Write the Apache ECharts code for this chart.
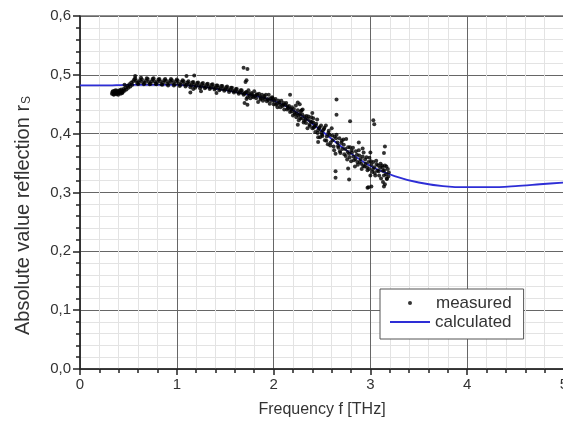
<!DOCTYPE html>
<html>
<head>
<meta charset="utf-8">
<script src="https://cdn.jsdelivr.net/npm/echarts@6/dist/echarts.min.js"></script>
<style>html,body{margin:0;padding:0;background:#fff}#c{width:563px;height:423px}</style>
</head>
<body>
<div id="c"></div>
<script>
// ---- data ----
const xTicks = [0, 1, 2, 3, 4, 5];
const yTickLabels = ['0,0', '0,1', '0,2', '0,3', '0,4', '0,5', '0,6'];
const calcX = [0, 0.25, 0.5, 0.75, 1.0, 1.25, 1.5, 1.75, 2.0, 2.25, 2.5, 2.75, 3.0, 3.25, 3.5, 3.75, 4.0, 4.25, 4.5, 4.75, 5.0];
const calcY = [0.482, 0.482, 0.483, 0.483, 0.483, 0.480, 0.474, 0.466, 0.456, 0.435, 0.404, 0.372, 0.345, 0.328, 0.317, 0.311, 0.309, 0.309, 0.311, 0.314, 0.317];
const measuredLow = [
[0.33,0.468],[0.34,0.472],[0.35,0.466],[0.36,0.470],[0.37,0.474],[0.38,0.467],[0.39,0.471],[0.40,0.469],[0.41,0.474],[0.42,0.468],[0.43,0.472],[0.44,0.470],[0.45,0.476],
[0.335,0.471],[0.345,0.467],[0.355,0.473],[0.365,0.468],[0.375,0.470],[0.385,0.473],[0.395,0.466],[0.405,0.472],[0.415,0.470],[0.425,0.475],[0.435,0.469],[0.445,0.473],
[0.46,0.473],[0.47,0.478],[0.48,0.475],[0.49,0.481],[0.50,0.478],[0.51,0.484],[0.52,0.480],[0.53,0.487],[0.54,0.483],[0.55,0.489],
[0.56,0.492],[0.57,0.494],[0.58,0.490],[0.59,0.486],[0.60,0.484],[0.61,0.487],[0.62,0.491],[0.63,0.495],[0.64,0.492],[0.65,0.487],[0.66,0.484],[0.67,0.486],[0.68,0.490],[0.69,0.494],[0.70,0.493],[0.71,0.488],[0.72,0.484],[0.73,0.485],[0.74,0.489],[0.75,0.493],[0.76,0.494],[0.77,0.489],[0.78,0.485],[0.79,0.484],[0.80,0.488],[0.81,0.492],[0.82,0.493],[0.83,0.489],[0.84,0.484],[0.85,0.483],[0.86,0.487],[0.87,0.491],[0.88,0.493],[0.89,0.490],[0.90,0.485],[0.91,0.482],[0.92,0.486],[0.93,0.490],[0.94,0.493],[0.95,0.491],[0.96,0.486],[0.97,0.482],[0.98,0.484],[0.99,0.489],[1.00,0.492],[1.01,0.490],[1.02,0.485],[1.03,0.481],[1.04,0.483],[1.05,0.488],[1.06,0.491],[1.07,0.489],[1.08,0.484],[1.09,0.480],[1.10,0.483],
[0.57,0.498],[0.46,0.483]
];
const measuredMid = [
[1.11,0.487],[1.12,0.489],[1.13,0.484],[1.14,0.479],[1.15,0.482],[1.16,0.487],[1.17,0.488],[1.18,0.483],[1.19,0.478],[1.20,0.481],[1.21,0.486],[1.22,0.487],[1.23,0.482],[1.24,0.477],[1.25,0.480],[1.26,0.485],[1.27,0.486],[1.28,0.481],[1.29,0.477],[1.30,0.479],[1.31,0.484],[1.32,0.485],[1.33,0.480],[1.34,0.476],[1.35,0.478],[1.36,0.483],[1.37,0.484],[1.38,0.479],[1.39,0.475],[1.40,0.477],[1.41,0.482],[1.42,0.482],[1.43,0.478],[1.44,0.474],[1.45,0.476],[1.46,0.481],[1.47,0.481],[1.48,0.476],[1.49,0.473],[1.50,0.475],[1.51,0.479],[1.52,0.480],[1.53,0.475],[1.54,0.471],[1.55,0.474],[1.56,0.478],[1.57,0.478],[1.58,0.473],[1.59,0.470],[1.60,0.472],[1.61,0.476],[1.62,0.476],[1.63,0.471],[1.64,0.468],[1.65,0.470],[1.66,0.474],[1.67,0.474],[1.68,0.469],[1.69,0.466],[1.70,0.468],
[1.10,0.498],[1.18,0.499],[1.14,0.470],[1.17,0.476],[1.41,0.469],[1.69,0.512],[1.73,0.510],[1.71,0.488],[1.72,0.491],[1.72,0.459],[1.70,0.452],[1.73,0.449],[1.25,0.472],
[1.71,0.470],[1.72,0.471],[1.73,0.462],[1.74,0.474],[1.75,0.465],[1.76,0.460],[1.77,0.469],[1.78,0.467],[1.79,0.462],[1.80,0.472],[1.81,0.464],[1.82,0.460],[1.83,0.466],[1.84,0.454],[1.85,0.468],[1.86,0.463],[1.87,0.460],[1.88,0.466],[1.89,0.456],[1.90,0.462],[1.91,0.459],[1.92,0.466],[1.93,0.455],[1.94,0.459],[1.95,0.466],[1.96,0.451],[1.97,0.460],[1.98,0.456],[1.99,0.460],[2.00,0.450],[2.01,0.456],[2.02,0.459],[2.03,0.451],[2.04,0.445],[2.05,0.456],[2.06,0.453],[2.07,0.445],[2.08,0.456],[2.09,0.447],[2.10,0.449],[2.11,0.441],[2.12,0.449],[2.13,0.452],[2.14,0.441],[2.15,0.443],[2.16,0.447],[2.17,0.437],[2.18,0.442],[2.19,0.445],[2.20,0.431],
[1.745,0.468],[1.785,0.464],[1.825,0.467],[1.865,0.458],[1.905,0.464],[1.945,0.457],[1.985,0.462],[2.025,0.449],[2.065,0.450],[2.105,0.452],[2.145,0.446],[2.185,0.438]
];
const measuredHigh = [
[2.21,0.442],[2.22,0.433],[2.23,0.448],[2.24,0.434],[2.25,0.440],[2.26,0.423],[2.27,0.433],[2.28,0.438],[2.29,0.426],[2.30,0.441],[2.31,0.419],[2.32,0.429],[2.33,0.424],[2.34,0.430],[2.35,0.409],[2.36,0.429],[2.37,0.415],[2.38,0.421],[2.39,0.428],[2.40,0.409],[2.41,0.419],[2.42,0.412],[2.43,0.403],[2.44,0.417],[2.45,0.424],[2.46,0.406],[2.47,0.409],[2.48,0.394],[2.49,0.414],[2.50,0.398],
[2.215,0.436],[2.235,0.428],[2.255,0.431],[2.275,0.426],[2.295,0.433],[2.315,0.422],[2.335,0.418],[2.355,0.425],[2.375,0.413],[2.395,0.420],[2.415,0.410],[2.435,0.414],[2.455,0.401],[2.475,0.411],[2.495,0.402],
[2.51,0.406],[2.52,0.408],[2.53,0.389],[2.54,0.414],[2.55,0.395],[2.56,0.382],[2.57,0.405],[2.58,0.398],[2.59,0.385],[2.60,0.409],[2.61,0.389],[2.62,0.378],[2.63,0.395],[2.64,0.366],[2.65,0.398],[2.66,0.385],[2.67,0.376],[2.68,0.392],[2.69,0.367],[2.70,0.384],[2.71,0.374],[2.72,0.390],[2.73,0.365],[2.74,0.374],[2.75,0.391],[2.76,0.356],[2.77,0.377],[2.78,0.366],[2.79,0.377],[2.80,0.353],[2.81,0.368],[2.82,0.376],[2.83,0.355],[2.84,0.344],[2.85,0.370],[2.86,0.364],[2.87,0.347],[2.88,0.372],[2.89,0.352],[2.90,0.357],[2.91,0.340],[2.92,0.361],[2.93,0.368],[2.94,0.344],[2.95,0.349],[2.96,0.360],[2.97,0.338],[2.98,0.352],[2.99,0.359],[3.00,0.329],[3.01,0.347],[3.02,0.335],[3.03,0.352],[3.04,0.343],[3.05,0.329],[3.06,0.354],[3.07,0.337],[3.08,0.346],[3.09,0.329],[3.10,0.342],[3.11,0.324],[3.12,0.346],[3.13,0.337],[3.14,0.329],[3.15,0.346],[3.16,0.331],[3.17,0.323],[3.18,0.340],[3.19,0.334],
[2.505,0.396],[2.525,0.410],[2.545,0.388],[2.565,0.401],[2.585,0.380],[2.605,0.397],[2.625,0.372],[2.645,0.392],[2.665,0.379],[2.685,0.370],[2.705,0.388],[2.725,0.381],[2.745,0.362],[2.765,0.369],[2.785,0.360],[2.805,0.372],[2.825,0.361],[2.845,0.357],[2.865,0.352],[2.885,0.363],[2.905,0.349],[2.925,0.345],[2.945,0.356],[2.965,0.343],[2.985,0.340],[3.005,0.353],[3.025,0.339],[3.045,0.333],[3.065,0.348],[3.085,0.336],[3.105,0.349],[3.125,0.343],[3.145,0.338],[3.165,0.344],[3.185,0.327],
[2.17,0.466],[2.25,0.453],[2.27,0.450],[2.29,0.440],[2.25,0.415],[2.40,0.435],[2.41,0.426],[2.46,0.394],[2.46,0.386],
[2.65,0.458],[2.65,0.432],[2.79,0.421],[3.03,0.423],[3.04,0.416],[2.64,0.336],[2.64,0.325],[2.78,0.322],[2.97,0.308],[3.01,0.310],[3.14,0.310],[3.15,0.314],[3.15,0.378],[3.14,0.367],[3.17,0.324],[3.13,0.318],[2.88,0.385],[2.92,0.375],[3.00,0.368],[2.77,0.341],[2.98,0.309]
];

// ---- chart ----
const chart = echarts.init(document.getElementById('c'), null, {renderer: 'canvas'});
const font = 'Liberation Sans, Arial, sans-serif';
const calcData = calcX.map((x, i) => [x, calcY[i]]);
const measured = measuredLow.concat(measuredMid, measuredHigh);
chart.setOption({
  backgroundColor: '#fff',
  animation: false,
  textStyle: {fontFamily: font},
  grid: {left: 80, top: 16, width: 484, height: 353, show: true, borderColor: '#222', borderWidth: 1,
    containLabel: false, outerBoundsMode: 'none'},
  xAxis: {
    type: 'value', min: xTicks[0], max: xTicks[xTicks.length - 1], interval: 1,
    name: 'Frequency f [THz]', nameLocation: 'middle', nameGap: 33,
    nameTextStyle: {fontSize: 16, color: '#333', fontFamily: font},
    axisLine: {show: true, onZero: false, lineStyle: {color: '#222', width: 1.5}},
    axisTick: {show: true, inside: false, length: 6, lineStyle: {color: '#222', width: 1.5}},
    minorTick: {show: true, splitNumber: 5, length: 4, lineStyle: {color: '#222', width: 1.5}},
    axisLabel: {fontSize: 15, color: '#333', margin: 8, fontFamily: font, showMaxLabel: true, hideOverlap: false},
    splitLine: {show: true, lineStyle: {color: '#666', width: 1}},
    minorSplitLine: {show: true, lineStyle: {color: '#e3e3e3', width: 1}}
  },
  yAxis: {
    type: 'value', min: 0, max: 0.6, interval: 0.1,
    name: '{a|Absolute value reflection r}{s|S}{p|}', nameLocation: 'middle', nameGap: 47,
    nameTextStyle: {color: '#333', fontFamily: font, rich: {
      a: {fontSize: 20, color: '#333', fontFamily: font},
      s: {fontSize: 12, color: '#333', fontFamily: font, verticalAlign: 'bottom', padding: [8, 0, 0, 1]},
      p: {width: 46}
    }},
    axisLine: {show: true, onZero: false, lineStyle: {color: '#222', width: 1.5}},
    axisTick: {show: true, inside: false, length: 7, lineStyle: {color: '#222', width: 1.5}},
    minorTick: {show: true, splitNumber: 5, length: 4, lineStyle: {color: '#222', width: 1.5}},
    axisLabel: {fontSize: 15, color: '#333', margin: 9, fontFamily: font,
      formatter: v => yTickLabels[Math.round(v * 10)]},
    splitLine: {show: true, lineStyle: {color: '#666', width: 1}},
    minorSplitLine: {show: true, lineStyle: {color: '#e3e3e3', width: 1}}
  },
  legend: [
    {
      data: [{name: 'measured', icon: 'circle'}],
      left: 380, top: 289, orient: 'vertical',
      itemWidth: 4, itemHeight: 4,
      padding: [5, 12, 27, 28],
      backgroundColor: '#fff', borderColor: '#555', borderWidth: 1,
      textStyle: {fontSize: 17, color: '#333', fontFamily: font, padding: [0, 0, 0, 19], lineHeight: 18},
      selectedMode: false
    },
    {
      data: [{name: 'calculated', icon: 'rect'}],
      left: 390, top: 313, orient: 'vertical',
      itemWidth: 40, itemHeight: 2, padding: 0,
      textStyle: {fontSize: 17, color: '#333', fontFamily: font, lineHeight: 18},
      selectedMode: false, z: 10
    }
  ],
  series: [
    {
      name: 'calculated', type: 'line', data: calcData, smooth: 0.3,
      symbol: 'none', showSymbol: false,
      lineStyle: {color: '#2e2ed6', width: 1.8}, itemStyle: {color: '#2e2ed6'}, z: 3
    },
    {
      name: 'measured', type: 'scatter', data: measured,
      symbol: 'circle', symbolSize: 4,
      itemStyle: {color: '#000'}, z: 4
    }
  ]
});
</script>
</body>
</html>
